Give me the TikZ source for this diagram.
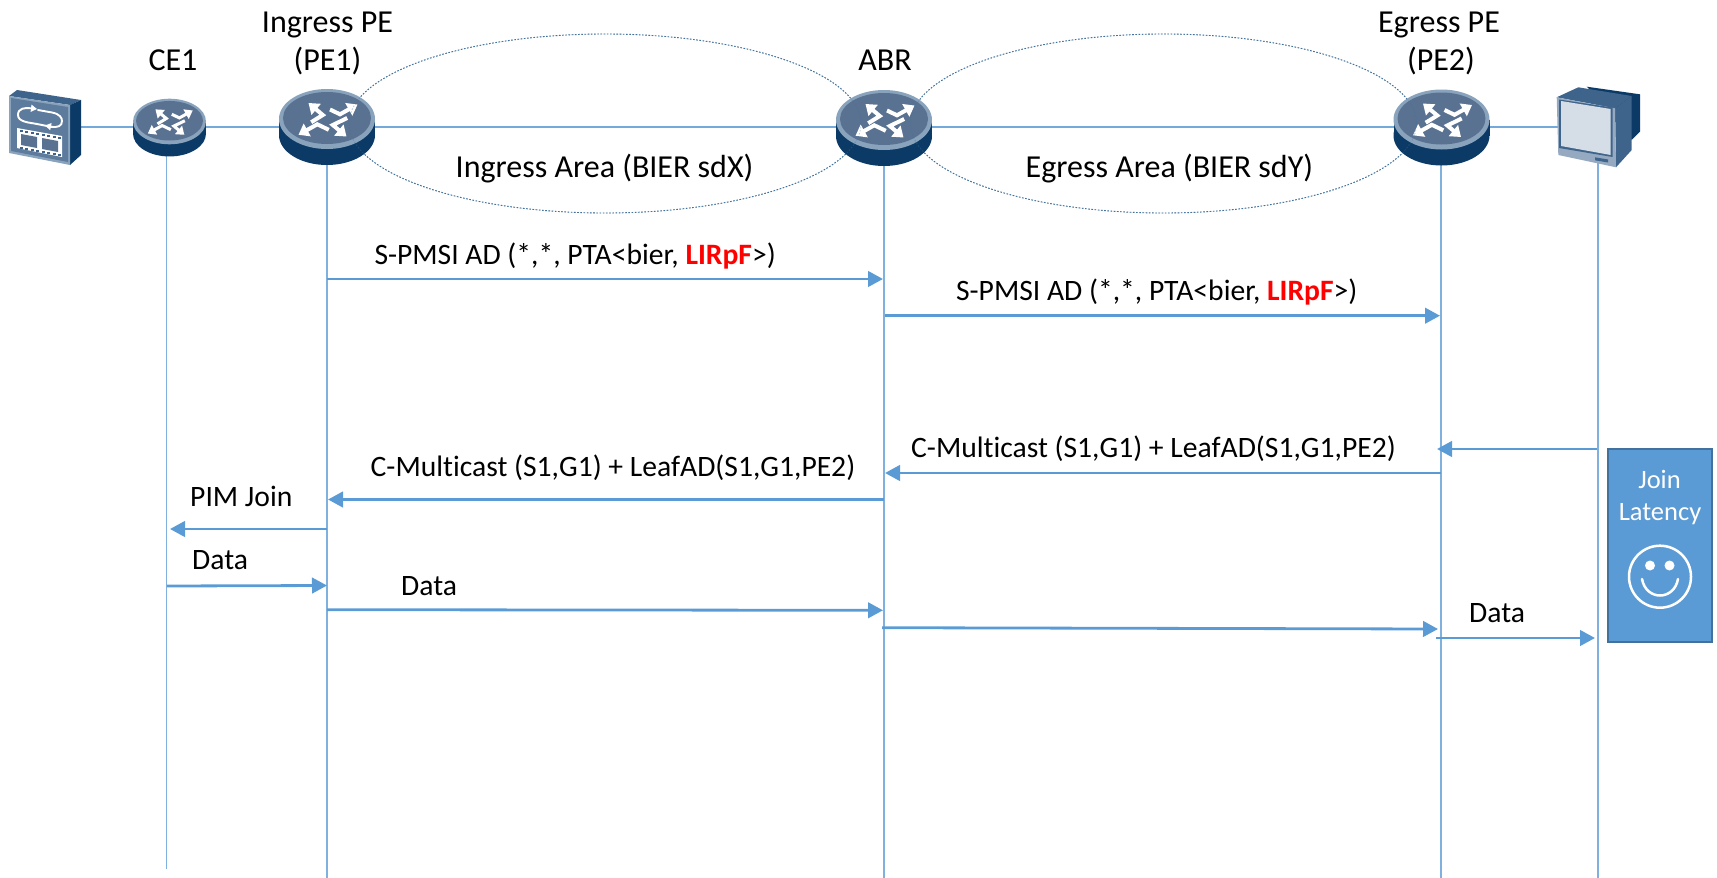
\documentclass[tikz,border=0pt]{standalone}
\usepackage{fontspec}
\setmainfont[Ligatures=NoCommon]{Carlito}
\usetikzlibrary{arrows.meta}
\definecolor{lineblue}{HTML}{5B9BD5}
\definecolor{lifeblue}{HTML}{7FB0DE}
\definecolor{navy}{HTML}{0B3A66}
\definecolor{rimblue}{HTML}{8AA3BC}
\definecolor{faceblue}{HTML}{5A7291}
\definecolor{midblue}{HTML}{3F648C}
\definecolor{dotblue}{HTML}{41719C}
\definecolor{screenc}{HTML}{D5DEE7}
\tikzset{
  lbl/.style={inner sep=0pt,anchor=base west,font=\fontsize{29.6}{34}\selectfont,text=black},
  big/.style={inner sep=0pt,anchor=base west,font=\fontsize{32}{38}\selectfont,text=black},
  ctr/.style={inner sep=0pt,anchor=base,font=\fontsize{32}{38}\selectfont,text=black},
  wht/.style={inner sep=0pt,anchor=base,font=\fontsize{26.5}{30}\selectfont,text=white},
  link/.style={draw=lineblue!85!white,line width=1.3pt},
  lifeline/.style={draw=lifeblue,line width=1.5pt},
  msg/.style={draw=lineblue,line width=2.8pt,-{Triangle[length=15pt,width=15.5pt]},shorten >=0pt},
  area/.style={draw=dotblue,line width=0.9pt,dash pattern=on 1.6pt off 1.6pt},
  areafaint/.style={draw=dotblue,opacity=0.35,line width=0.9pt,dash pattern=on 1.6pt off 1.6pt},
  hub/.style={coordinate}
}
\newcommand{\routericon}[3]{%
  \begin{scope}[shift={(#1,#2)},scale=#3]
    \fill[navy] (0,16) ellipse [x radius=48,y radius=30];
    \fill[navy] (-48,0) rectangle (48,16);
    \fill[rimblue] (0,0) ellipse [x radius=48,y radius=30];
    \fill[faceblue] (0,-1) ellipse [x radius=44,y radius=26];
    \begin{scope}[draw=white,line width=#3*4pt,line join=miter,-{Triangle[length=10pt,width=14pt,scale=#3]}]
      \draw (3,-9.5) -- (13,-4.7) -- (30.5,-14.5);
      \draw (-15.8,3.2) -- (-4.2,-4) -- (-18.5,-16);
      \draw (1.8,10.8) -- (-9.7,5.3) -- (-28.5,15.8);
      \draw (20.2,-1) -- (5.8,6) -- (19.5,17.5);
    \end{scope}
  \end{scope}}
\begin{document}
\begin{tikzpicture}[x=1pt,y=-1pt]
\useasboundingbox (0,0) rectangle (1717,878);
% hubs and lifeline ends
\node[hub] (src) at (40,127) {};
\node[hub] (ce1) at (166.5,127) {};
\node[hub] (pe1) at (327,127) {};
\node[hub] (abr) at (884,127) {};
\node[hub] (pe2) at (1441,127) {};
\node[hub] (rcv) at (1598,127) {};
\node[hub] (ce1end) at (166.5,869) {};
\node[hub] (pe1end) at (327,878) {};
\node[hub] (abrend) at (884,878) {};
\node[hub] (pe2end) at (1441,878) {};
\node[hub] (rcvend) at (1598,878) {};
% areas
\draw[area] (605,123.5) ellipse [x radius=256,y radius=89.5];
\draw[area] (1163.5,123.5) ellipse [x radius=253,y radius=89.5];
% links and lifelines
\draw[link] (src) -- (ce1);
\draw[link] (ce1) -- (pe1);
\draw[link] (pe1) -- (abr);
\draw[link] (abr) -- (pe2);
\draw[link] (pe2) -- (rcv);
\draw[lifeline] (ce1) -- (ce1end);
\draw[lifeline] (pe1) -- (pe1end);
\draw[lifeline] (abr) -- (abrend);
\draw[lifeline] (pe2) -- (pe2end);
\draw[lifeline] (rcv) -- (rcvend);
% routers
\routericon{169.5}{121.5}{0.76}
\routericon{327}{119}{1}
\routericon{884}{120}{1}
\routericon{1441.5}{119.5}{1}
\draw[areafaint] (605,123.5) ellipse [x radius=256,y radius=89.5];
\draw[areafaint] (1163.5,123.5) ellipse [x radius=253,y radius=89.5];
% source device
\fill[midblue] (9,96) -- (17,90) -- (81,100) -- (70,105) -- cycle;
\fill[navy] (81,100) -- (81,155) -- (70,165) -- (70,105) -- cycle;
\fill[rimblue] (9,96) -- (70,105) -- (70,165) -- (9,153) -- cycle;
\fill[midblue!85!white] (11,98) -- (68,107) -- (68,162) -- (11,151) -- cycle;
\draw[white,line width=1.9pt,line cap=round,-{Triangle[length=6pt,width=7pt]}] (52,127) -- (37,124) .. controls (29,122.5) and (18,122) .. (18,115) .. controls (18,108) and (25,107.5) .. (37,109);
\draw[white,line width=1.9pt,line cap=round,-{Triangle[length=6pt,width=7pt]}] (38,110) -- (52,112.5) .. controls (60,114) and (62,118) .. (62,121) .. controls (62,126) and (58,128) .. (45,125.5);
\fill[white] (17,128) -- (62,136) -- (62,157) -- (17,148) -- cycle;
\fill[faceblue] (21,134) -- (37,137) -- (37,148) -- (21,145) -- cycle;
\fill[faceblue] (42,138) -- (58,141) -- (58,152) -- (42,149) -- cycle;
\foreach \f in {0,1,2,3,4,5,6,7} {
  \fill[midblue] (19.5+\f*5.5,129.7+\f*0.99) rectangle ++(3,2.2);
  \fill[midblue] (19.5+\f*5.5,146.6+\f*0.99) rectangle ++(3,2.2);
}
% monitor
\fill[navy] (1586.7,86.7) -- (1640,94.3) -- (1640,131.7) -- (1631.7,140) -- (1620,120) -- cycle;
\fill[midblue] (1556.7,97.3) -- (1578.3,87.3) -- (1631.7,96) -- (1615,108.3) -- cycle;
\fill[midblue] (1631.7,96) -- (1631.7,150) -- (1616,167.3) -- (1615,108.3) -- cycle;
\fill[midblue!55!white] (1556.7,97.3) -- (1615,108.3) -- (1616,167.3) -- (1558.3,155) -- cycle;
\fill[midblue] (1559,99.5) -- (1612.5,107.5) -- (1612.5,157) -- (1559,148) -- cycle;
\fill[screenc] (1561,101) -- (1610.7,109) -- (1610.7,155) -- (1561,146) -- cycle;
\fill[midblue] (1595,157.3) -- (1608,159.5) -- (1608,162.5) -- (1595,160.3) -- cycle;
% messages
\node[hub] (m1s) at (327,279) {};  \node[hub] (m1e) at (883,279) {};
\node[hub] (m2s) at (885,315.7) {};\node[hub] (m2e) at (1440,315.7) {};
\node[hub] (m3s) at (1597,449) {}; \node[hub] (m3e) at (1437,449) {};
\node[hub] (m4s) at (1441,473) {}; \node[hub] (m4e) at (885,473) {};
\node[hub] (m5s) at (884,499.5) {};\node[hub] (m5e) at (328,499.5) {};
\node[hub] (m6s) at (327,529) {};  \node[hub] (m6e) at (170,529) {};
\node[hub] (m7s) at (167,586) {};  \node[hub] (m7e) at (327,585.5) {};
\node[hub] (m8s) at (327,609.7) {};\node[hub] (m8e) at (883,610.3) {};
\node[hub] (m9s) at (882,627.7) {};\node[hub] (m9e) at (1438,629) {};
\node[hub] (m10s) at (1436,638) {};\node[hub] (m10e) at (1595,638) {};
\foreach \k in {1,...,10} {\draw[msg] (m\k s) -- (m\k e);}
% titles
\node[ctr] (t1) at (327.5,32) {Ingress PE};
\node[ctr] (t2) at (327.5,70) {(PE1)};
\node[ctr] (t3) at (173,70) {CE1};
\node[ctr] (t4) at (885,70) {ABR};
\node[ctr] (t5) at (1439,32) {Egress PE};
\node[ctr] (t6) at (1441,70) {(PE2)};
\node[big] (a1) at (455.5,177) {Ingress Area (BIER sdX)};
\node[big] (a2) at (1025.5,177) {Egress Area (BIER sdY)};
\node[lbl] (l1) at (374.4,264.5) {S-PMSI AD (*,*, PTA<bier, \textcolor{red}{\textbf{LIRpF}}>)};
\node[lbl] (l2) at (956,300) {S-PMSI AD (*,*, PTA<bier, \textcolor{red}{\textbf{LIRpF}}>)};
\node[lbl] (l3) at (911,457) {C-Multicast (S1,G1) + LeafAD(S1,G1,PE2)};
\node[lbl] (l4) at (370.5,476) {C-Multicast (S1,G1) + LeafAD(S1,G1,PE2)};
\node[lbl] (l5) at (190,506) {PIM Join};
\node[lbl] (l6) at (192,569) {Data};
\node[lbl] (l7) at (401,595) {Data};
\node[lbl] (l8) at (1469,622) {Data};
% join latency
\node[draw=dotblue,fill=lineblue,line width=1.6pt,minimum width=104pt,minimum height=193pt,inner sep=0pt] (jl) at (1660,545.5) {};
\node[wht] (j1) at (1659.5,488) {Join};
\node[wht] (j2) at (1660,520) {Latency};
\draw[white,line width=2.5pt] (1660,576.7) circle [radius=31];
\fill[white] (1650,565.5) circle [radius=5];
\fill[white] (1669.5,565.5) circle [radius=5];
\draw[white,line width=2.5pt,line cap=round] (1642,579) .. controls (1646,601) and (1674,601) .. (1678,579);
\end{tikzpicture}
\end{document}
